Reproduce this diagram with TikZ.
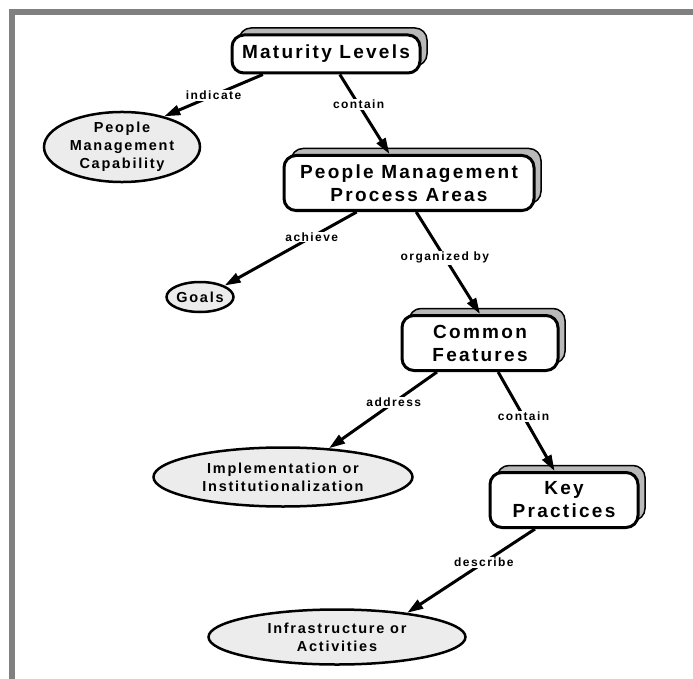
\documentclass[tikz,border=0pt]{standalone}
\usepackage{fontspec}
\setmainfont{Liberation Sans}
\newfontfamily\mapfont[LetterSpace=12]{Liberation Sans}
\usetikzlibrary{shapes.geometric,shadows,arrows.meta}

\begin{document}
\begin{tikzpicture}[x=1pt,y=-1pt,
    box/.style={draw,line width=3pt,rounded corners=12pt,fill=white,align=center,inner sep=0pt,
      font=\mapfont\bfseries\fontsize{19}{23}\selectfont,
      copy shadow={shadow xshift=7pt,shadow yshift=7pt,fill=gray!55,draw=black,line width=1.5pt}},
    oval/.style={ellipse,draw,line width=2.5pt,fill=gray!15,align=center,inner sep=0pt,
      font=\mapfont\bfseries\fontsize{14.5}{18}\selectfont},
    link/.style={-{Triangle[length=16pt,width=10pt]},line width=3pt},
    lbl/.style={fill=white,inner sep=1pt,font=\mapfont\bfseries\fontsize{12}{14}\selectfont}]
        \useasboundingbox (0,0) rectangle (693,679);
        \draw[gray,line width=6pt] (12,679) -- (12,12) -- (693,12);
        \node[box,minimum width=188pt,minimum height=38pt] (ml) at (326,54) {Maturity Levels};
        \node[oval,minimum width=156pt,minimum height=66pt] (pmc) at (122,147) {People\\Management\\Capability};
        \node[box,minimum width=250pt,minimum height=55pt] (pmpa) at (409,183) {People Management\\Process Areas};
        \node[oval,minimum width=67pt,minimum height=30pt] (goals) at (200,297) {Goals};
        \node[box,minimum width=156pt,minimum height=55pt] (cf) at (480,343) {Common\\Features};
        \node[oval,minimum width=259pt,minimum height=59pt] (impl) at (283,477) {Implementation or\\Institutionalization};
        \node[box,minimum width=148pt,minimum height=55pt] (kp) at (564,500) {Key\\Practices};
        \node[oval,minimum width=257pt,minimum height=55pt] (infra) at (337,637) {Infrastructure or\\Activities};
        \draw[link] (ml.198) -- node[lbl,pos=0.5] {indicate} (pmc.36);
        \draw[link] (ml.-56) -- node[lbl,pos=0.38] {contain} (pmpa.124);
        \draw[link] (pmpa.209) -- node[lbl,pos=0.34] {achieve} (goals.25);
        \draw[link] (pmpa.-76) -- node[lbl,pos=0.45] {organized by} (cf.north);
        \draw[link] (cf.214) -- node[lbl,pos=0.4] {address} (impl.32);
        \draw[link] (cf.-58) -- node[lbl,pos=0.45] {contain} (kp.108);
        \draw[link] (kp.225) -- node[lbl,pos=0.4] {describe} (infra.19);
    \end{tikzpicture}
\end{document}
